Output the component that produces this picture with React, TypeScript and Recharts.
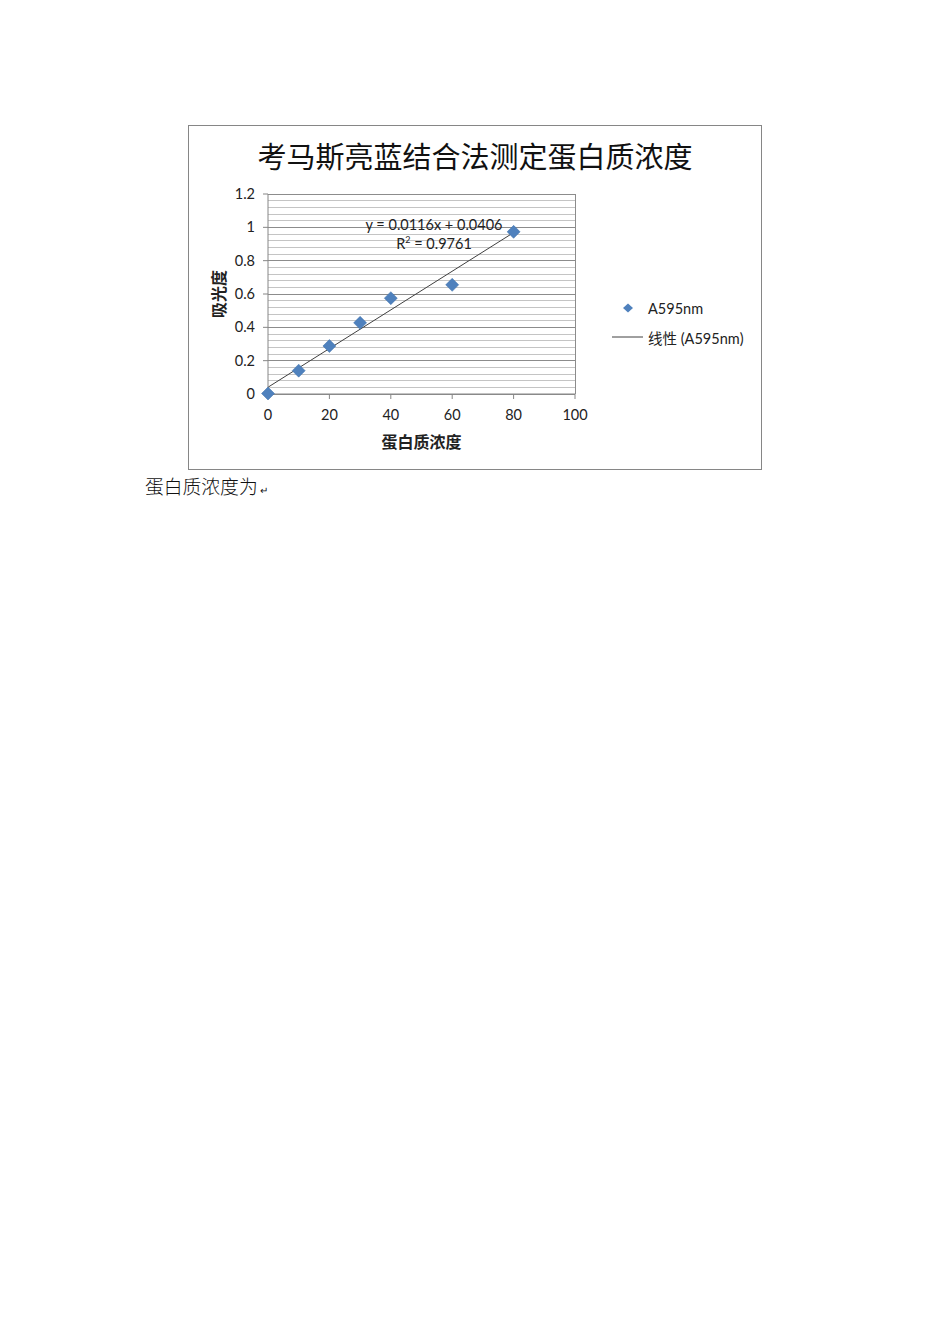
import React from 'react';
import {
  ScatterChart,
  Scatter,
  XAxis,
  YAxis,
  CartesianGrid,
  ReferenceLine,
  Label,
} from 'recharts';

// 蛋白质浓度 vs A595nm
const concentration = [0, 10, 20, 30, 40, 60, 80];
const absorbance = [0.003, 0.14, 0.288, 0.427, 0.575, 0.655, 0.973];

const xTicks = [0, 20, 40, 60, 80, 100];
const yTicks = [0, 0.2, 0.4, 0.6, 0.8, 1, 1.2];
const minorLines = [
  0.04, 0.08, 0.12, 0.16, 0.24, 0.28, 0.32, 0.36, 0.44, 0.48, 0.52, 0.56,
  0.64, 0.68, 0.72, 0.76, 0.84, 0.88, 0.92, 0.96, 1.04, 1.08, 1.12, 1.16,
];

// trendline end points, from y = 0.0116x + 0.0406
const trendX = [0, 80];
const trendY = [0.0406, 0.9686];

const points = concentration.map((x, i) => ({ x, y: absorbance[i] }));

const BLUE = '#4f81bd';
const SANS = "Lato, 'Noto Sans CJK SC', sans-serif";
const CJK = "'Noto Sans CJK SC', sans-serif";

const Diamond = (props: any) => {
  const { cx, cy } = props;
  const r = 6.5;
  return (
    <polygon
      points={`${cx},${cy - r} ${cx + r},${cy} ${cx},${cy + r} ${cx - r},${cy}`}
      fill={BLUE}
      stroke="#3d6ea8"
      strokeWidth={0.5}
    />
  );
};

export default function App() {
  return (
    <div style={{ position: 'absolute', left: 0, top: 0, width: 950, height: 1344, background: '#fff' }}>
      <div
        style={{
          position: 'absolute',
          left: 188,
          top: 125,
          width: 574,
          height: 345,
          border: '1px solid #868686',
          boxSizing: 'border-box',
        }}
      >
        <ScatterChart width={572} height={343} margin={{ top: 68, right: 186, left: 0, bottom: 0 }}>
          {minorLines.map((v) => (
            <ReferenceLine key={v} y={v} stroke="#c4c4c4" strokeWidth={1} shapeRendering="crispEdges" />
          ))}
          <CartesianGrid
            horizontalValues={yTicks}
            verticalValues={[100]}
            stroke="#8c8c8c"
            shapeRendering="crispEdges"
          />
          <XAxis
            type="number"
            dataKey="x"
            domain={[0, 100]}
            ticks={xTicks}
            height={75}
            tickSize={5}
            tickMargin={11}
            stroke="#868686"
            tick={{ fill: '#222', fontSize: 14.5, fontFamily: SANS }}
          >
            <Label
              value="蛋白质浓度"
              position="insideBottom"
              offset={21}
              style={{ fontFamily: CJK, fontSize: 16, fontWeight: 700, fill: '#222' }}
            />
          </XAxis>
          <YAxis
            type="number"
            dataKey="y"
            domain={[0, 1.2]}
            ticks={yTicks}
            width={79}
            tickSize={5}
            tickMargin={8}
            stroke="#868686"
            tick={{ fill: '#222', fontSize: 14.5, fontFamily: SANS }}
          >
            <Label
              content={({ viewBox }: any) => {
                const cx = viewBox.x + 29;
                const cy = viewBox.y + viewBox.height / 2;
                return (
                  <text
                    x={cx}
                    y={cy}
                    transform={`rotate(-90 ${cx} ${cy})`}
                    textAnchor="middle"
                    dominantBaseline="central"
                    style={{ fontFamily: CJK, fontSize: 16, fontWeight: 700, fill: '#222' }}
                  >
                    吸光度
                  </text>
                );
              }}
            />
          </YAxis>
          <ReferenceLine
            segment={[
              { x: trendX[0], y: trendY[0] },
              { x: trendX[1], y: trendY[1] },
            ]}
            stroke="#404040"
            strokeWidth={1}
            ifOverflow="visible"
          />
          <Scatter data={points} shape={Diamond} isAnimationActive={false} />
        </ScatterChart>

        <div
          style={{
            position: 'absolute',
            left: 0,
            width: '100%',
            top: 11,
            textAlign: 'center',
            fontFamily: CJK,
            fontSize: 29,
            lineHeight: '36px',
            color: '#111',
          }}
        >
          考马斯亮蓝结合法测定蛋白质浓度
        </div>

        <div
          style={{
            position: 'absolute',
            left: 244 - 188 + 59,
            width: 260,
            top: 89,
            textAlign: 'center',
            fontFamily: SANS,
            fontSize: 14.5,
            lineHeight: '19px',
            color: '#222',
          }}
        >
          <div>y = 0.0116x + 0.0406</div>
          <div>
            R<sup style={{ fontSize: 9, verticalAlign: 'top', lineHeight: '12px' }}>2</sup> = 0.9761
          </div>
        </div>

        <div style={{ position: 'absolute', left: 423, top: 172, fontFamily: SANS, fontSize: 14.5, color: '#222' }}>
          <div style={{ display: 'flex', alignItems: 'center', height: 20 }}>
            <svg width={32} height={12} style={{ marginRight: 4 }}>
              <polygon points="16,1.5 21,6 16,10.5 11,6" fill={BLUE} />
            </svg>
            <span>A595nm</span>
          </div>
          <div style={{ display: 'flex', alignItems: 'center', height: 20, marginTop: 9 }}>
            <svg width={32} height={12} style={{ marginRight: 4 }}>
              <line x1={0} y1={6} x2={31} y2={6} stroke="#404040" strokeWidth={1} />
            </svg>
            <span>线性 (A595nm)</span>
          </div>
        </div>
      </div>

      <div
        style={{
          position: 'absolute',
          left: 145,
          top: 472,
          fontFamily: CJK,
          fontWeight: 300,
          fontSize: 18.8,
          color: '#111',
        }}
      >
        蛋白质浓度为<span style={{ fontSize: 10, marginLeft: 2 }}>↵</span>
      </div>
    </div>
  );
}
